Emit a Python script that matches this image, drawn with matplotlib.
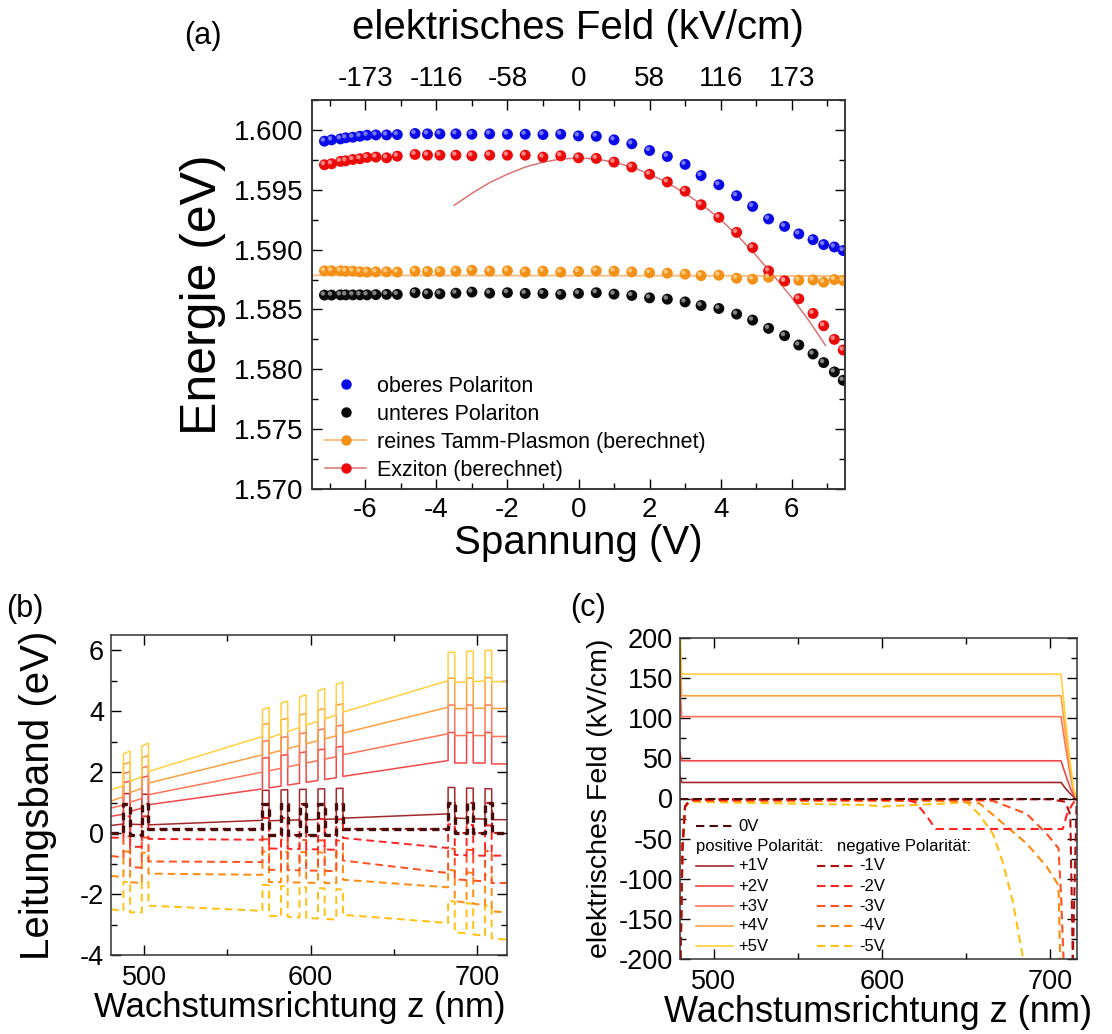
import numpy as np
import matplotlib
matplotlib.use("Agg")
import matplotlib.pyplot as plt
from matplotlib.transforms import offset_copy
from matplotlib.lines import Line2D
from matplotlib.ticker import MultipleLocator, FixedLocator, FormatStrFormatter

plt.rcParams['font.family'] = ['Liberation Sans', 'DejaVu Sans']
plt.rcParams['axes.linewidth'] = 1.1
plt.rcParams['axes.edgecolor'] = '#333333'
plt.rcParams['axes.unicode_minus'] = False

# ---------------- (a) polariton energies vs. voltage ----------------
voltage = [-7.15, -6.95, -6.7, -6.55, -6.35, -6.15, -5.95, -5.7, -5.4, -5.1,
           -4.6, -4.25, -3.9, -3.45, -3.0, -2.5, -2.0, -1.5, -1.0, -0.5,
           0.0, 0.5, 1.0, 1.5, 2.0, 2.5, 3.0, 3.45, 3.95, 4.45,
           4.9, 5.35, 5.8, 6.2, 6.6, 6.9, 7.2, 7.45]
e_upper = [1.59906, 1.59917, 1.59925, 1.59934, 1.59939, 1.59947, 1.59956, 1.59958, 1.59958, 1.59961,
           1.59970, 1.59967, 1.59967, 1.59967, 1.59964, 1.59967, 1.59964, 1.59964, 1.59961, 1.59964,
           1.59950, 1.59947, 1.59917, 1.59884, 1.59828, 1.59778, 1.59712, 1.59619, 1.59542, 1.59450,
           1.59361, 1.59256, 1.59194, 1.59131, 1.59083, 1.59042, 1.59022, 1.58992]
e_lower = [1.58620, 1.58620, 1.58622, 1.58622, 1.58622, 1.58622, 1.58622, 1.58624, 1.58626, 1.58626,
           1.58640, 1.58631, 1.58631, 1.58636, 1.58645, 1.58636, 1.58640, 1.58634, 1.58634, 1.58626,
           1.58634, 1.58640, 1.58628, 1.58617, 1.58597, 1.58586, 1.58563, 1.58533, 1.58508, 1.58461,
           1.58411, 1.58342, 1.58281, 1.58203, 1.58128, 1.58056, 1.57978, 1.57908]
e_tamm = [1.58823, 1.58823, 1.58823, 1.58820, 1.58820, 1.58814, 1.58812, 1.58814, 1.58814, 1.58812,
          1.58820, 1.58817, 1.58817, 1.58820, 1.58828, 1.58820, 1.58823, 1.58814, 1.58820, 1.58812,
          1.58817, 1.58823, 1.58820, 1.58814, 1.58806, 1.58803, 1.58795, 1.58783, 1.58786, 1.58761,
          1.58753, 1.58769, 1.58736, 1.58744, 1.58747, 1.58728, 1.58750, 1.58742]
e_exciton = [1.59709, 1.59717, 1.59737, 1.59742, 1.59753, 1.59759, 1.59770, 1.59773, 1.59767, 1.59781,
             1.59795, 1.59789, 1.59789, 1.59789, 1.59784, 1.59789, 1.59789, 1.59789, 1.59773, 1.59784,
             1.59767, 1.59762, 1.59731, 1.59690, 1.59629, 1.59565, 1.59488, 1.59375, 1.59269, 1.59144,
             1.59017, 1.58822, 1.58739, 1.58589, 1.58467, 1.58364, 1.58250, 1.58161]
tamm_fit_v = [-7.5, 7.5]
tamm_fit_e = [1.58785, 1.58780]
exciton_fit_v = [-3.5, -3.0, -2.5, -2.0, -1.5, -1.0, -0.5, 0.0, 0.5, 1.0, 1.5,
                 2.0, 2.5, 3.0, 3.5, 4.0, 4.5, 5.0, 5.5, 6.0, 6.5, 6.95]
exciton_fit_e = [1.59370, 1.59470, 1.59560, 1.59630, 1.59690, 1.59730, 1.59757, 1.59765, 1.59757,
                 1.59730, 1.59690, 1.59630, 1.59560, 1.59470, 1.59370, 1.59250, 1.59110, 1.58950,
                 1.58780, 1.58600, 1.58400, 1.58200]
field_tick_v = [-6, -4, -2, 0, 2, 4, 6]
field_tick_labels = ['-173', '-116', '-58', '0', '58', '116', '173']

# ---------------- (b) conduction band profiles ----------------
region_edges = [480.0, 487.5, 502.5, 571.0, 619.4, 682.6, 708.8, 718.0]
barrier_starts = [[487.5, 498.5], [571.0, 582.2, 593.3, 604.4, 615.4], [682.6, 693.7, 704.8]]
barrier_width = 4.0
barrier_height = 1.0
# (start, end) band edge per region: R0, G1, R1, G2, R2, G3, R3
band_0 = [0.00, 0.00, -0.05, -0.05, 0.13, 0.13, -0.05, -0.05, 0.13, 0.13, 0.00, 0.00, 0.00, 0.00]
band_p1 = [0.25, 0.30, 0.30, 0.27, 0.27, 0.42, 0.40, 0.47, 0.49, 0.63, 0.50, 0.45, 0.44, 0.44]
band_p2 = [0.55, 0.62, 0.65, 0.88, 0.93, 1.45, 1.45, 1.85, 1.86, 2.38, 2.30, 2.30, 2.27, 2.27]
band_p3 = [0.82, 0.92, 0.95, 1.20, 1.26, 2.00, 2.00, 2.55, 2.57, 3.26, 3.20, 3.20, 3.17, 3.17]
band_p4 = [1.05, 1.20, 1.25, 1.55, 1.64, 2.57, 2.55, 3.25, 3.28, 4.13, 4.08, 4.10, 4.09, 4.09]
band_p5 = [1.42, 1.55, 1.60, 1.95, 2.02, 3.17, 3.05, 3.95, 3.97, 5.00, 4.93, 5.00, 4.97, 4.97]
band_m1 = [0.00, 0.00, -0.05, -0.05, 0.12, 0.12, -0.05, -0.05, 0.12, 0.12, 0.00, 0.00, 0.00, 0.00]
band_m2 = [-0.15, -0.15, -0.45, -0.45, -0.19, -0.22, -0.50, -0.55, -0.16, -0.49, -0.71, -0.75, -0.74, -0.74]
band_m3 = [-0.75, -0.80, -1.10, -1.15, -0.93, -0.95, -1.20, -1.25, -0.90, -1.31, -1.50, -1.60, -1.64, -1.64]
band_m4 = [-1.40, -1.45, -1.60, -1.65, -1.33, -1.37, -1.60, -1.65, -1.53, -1.78, -2.20, -2.40, -2.57, -2.60]
band_m5 = [-2.50, -2.55, -2.60, -2.60, -2.38, -2.55, -2.70, -2.85, -2.68, -2.95, -3.22, -3.40, -3.45, -3.50]

# ---------------- (c) electric field profiles ----------------
pos_z = [480.0, 481.0, 706.5, 709.0, 712.0, 714.0, 715.8]
field_p1 = [28, 20, 20, 13, 6, 2, 0]
field_p2 = [58, 47, 47, 31, 13, 4, 0]
field_p3 = [140, 102, 102, 67, 29, 8, 0]
field_p4 = [190, 128, 128, 84, 36, 10, 0]
field_p5 = [215, 155, 155, 102, 44, 12, 0]
field_0_z = [480.0, 715.8]
field_0 = [0, 0]
field_m1_z = [480.3, 481.5, 483.0, 486.0, 700.0, 709.0, 712.0, 713.5, 715.8]
field_m1 = [-200, -60, -10, -1, -1, -4, -20, -200, 0]
field_m2_z = [480.3, 481.5, 483.0, 486.0, 615.0, 620.0, 626.0, 632.0, 707.5, 710.0, 713.0, 715.8]
field_m2 = [-200, -60, -10, -2, -2, -5, -20, -38, -38, -20, -8, 0]
field_m3_z = [480.3, 481.5, 483.0, 486.0, 650.0, 666.0, 686.0, 698.0, 705.0, 706.5, 708.0]
field_m3 = [-200, -60, -10, -2, -2, -3, -19, -44, -62, -120, -200]
field_m4_z = [480.3, 481.5, 483.0, 486.0, 640.0, 658.0, 672.0, 686.0, 698.0, 705.0, 706.0]
field_m4 = [-200, -60, -10, -3, -3, -6, -31, -56, -85, -108, -200]
field_m5_z = [480.3, 481.5, 483.0, 486.0, 590.0, 600.0, 640.0, 650.0, 658.0, 666.0, 672.0, 678.0, 684.0]
field_m5 = [-200, -60, -10, -4, -8, -10, -6, -4, -20, -44, -80, -130, -200]

col_0 = '#4a0a0a'
col_pos = ['#a3282b', '#f04848', '#ff7458', '#ffa040', '#ffd040']
col_neg = ['#b80d0d', '#ff2424', '#ff5020', '#ff8a10', '#ffc010']

fig = plt.figure(figsize=(11.12, 10.34), dpi=100)
W, H = 1112.0, 1034.0


def axes_px(left, top, right, bottom):
    return fig.add_axes([left / W, 1 - bottom / H, (right - left) / W, (bottom - top) / H])


def style_ticks(ax, size):
    ax.tick_params(which='both', direction='in', top=True, right=True, labelsize=size, width=1.0)
    ax.tick_params(which='major', length=7)
    ax.tick_params(which='minor', length=4)


# ------------------------------ panel (a)
ax = axes_px(312, 100, 845, 489)
ax.plot(tamm_fit_v, tamm_fit_e, color='#f6c28a', lw=1.4, zorder=2)
ax.plot(exciton_fit_v, exciton_fit_e, color='#d87474', lw=1.1, zorder=2)


def sphere(ax, x, y, color, light):
    ax.scatter(x, y, s=62, color=color, edgecolors='none', zorder=4)
    tr = offset_copy(ax.transData, fig=fig, x=-1.6, y=1.6, units='dots')
    ax.scatter(x, y, s=10, color=light, edgecolors='none', zorder=5, transform=tr, alpha=0.85)


sphere(ax, voltage, e_upper, '#0a0ae6', '#8a8aff')
sphere(ax, voltage, e_lower, '#0a0a0a', '#9a9a9a')
sphere(ax, voltage, e_tamm, '#f39017', '#ffd08a')
sphere(ax, voltage, e_exciton, '#ea0b0b', '#ff9a9a')

ax.set_xlim(-7.5, 7.5)
ax.set_ylim(1.570, 1.6025)
ax.xaxis.set_major_locator(MultipleLocator(2))
ax.xaxis.set_minor_locator(MultipleLocator(1))
ax.yaxis.set_major_locator(MultipleLocator(0.005))
ax.yaxis.set_minor_locator(MultipleLocator(0.0025))
ax.yaxis.set_major_formatter(FormatStrFormatter('%.3f'))
style_ticks(ax, 20)
ax.tick_params(axis='x', top=False, pad=6)
ax.tick_params(axis='y', pad=6)

top = ax.twiny()
top.set_xlim(ax.get_xlim())
top.xaxis.set_major_locator(FixedLocator(field_tick_v))
top.xaxis.set_minor_locator(MultipleLocator(1))
top.set_xticklabels(field_tick_labels)
top.tick_params(which='both', direction='in', labelsize=20, pad=6, width=1.0)
top.tick_params(which='major', length=7)
top.tick_params(which='minor', length=4)

handles = [
    Line2D([], [], ls='none', marker='o', ms=6.5, color='#0a0ae6'),
    Line2D([], [], ls='none', marker='o', ms=6.5, color='#0a0a0a'),
    Line2D([], [], ls='-', color='#f6c28a', lw=1.4, marker='o', ms=6.5,
           markerfacecolor='#f39017', markeredgecolor='#f39017'),
    Line2D([], [], ls='-', color='#d87474', lw=1.1, marker='o', ms=6.5,
           markerfacecolor='#ea0b0b', markeredgecolor='#ea0b0b'),
]
labels = ['oberes Polariton', 'unteres Polariton',
          'reines Tamm-Plasmon (berechnet)', 'Exziton (berechnet)']
ax.legend(handles, labels, loc='lower left', bbox_to_anchor=(0.005, -0.006), frameon=False,
          fontsize=15.5, handlelength=1.9, handletextpad=0.5, labelspacing=0.32, borderpad=0)

fig.text(578 / W, 1 - 28 / H, 'elektrisches Feld (kV/cm)', ha='center', va='center', fontsize=29)
fig.text(578 / W, 1 - 543 / H, 'Spannung (V)', ha='center', va='center', fontsize=29)
fig.text(203 / W, 1 - 295 / H, 'Energie (eV)', ha='center', va='center', fontsize=36, rotation=90)
fig.text(203 / W, 1 - 36 / H, '(a)', ha='center', va='center', fontsize=22)

# ------------------------------ panel (b)
bx = axes_px(111, 635, 507, 955)


def band_line(vals):
    zs, es = [], []
    for i in range(7):
        a, b = region_edges[i], region_edges[i + 1]
        e0, e1 = vals[2 * i], vals[2 * i + 1]

        def base(z):
            return e0 + (e1 - e0) * (z - a) / (b - a)
        if i % 2 == 0:
            zs += [a, b]
            es += [e0, e1]
        else:
            for s in barrier_starts[i // 2]:
                t = s + barrier_width
                if s > a:
                    zs.append(s); es.append(base(s))
                zs += [s, t]
                es += [base(s) + barrier_height, base(t) + barrier_height]
                if t < b:
                    zs.append(t); es.append(base(t))
    return zs, es


neg_bands = [band_m1, band_m2, band_m3, band_m4, band_m5]
pos_bands = [band_p1, band_p2, band_p3, band_p4, band_p5]
for vals, c in zip(neg_bands[::-1], col_neg[::-1]):
    z, e = band_line(vals)
    bx.plot(z, e, color=c, lw=1.4, ls=(0, (4, 2.5)))
for vals, c in zip(pos_bands, col_pos):
    z, e = band_line(vals)
    bx.plot(z, e, color=c, lw=1.1)
z, e = band_line(band_0)
bx.plot(z, e, color=col_0, lw=2.4, ls=(0, (2.2, 1.6)))

bx.set_xlim(480, 718)
bx.set_ylim(-4, 6.5)
bx.xaxis.set_major_locator(MultipleLocator(100))
bx.xaxis.set_minor_locator(MultipleLocator(50))
bx.yaxis.set_major_locator(MultipleLocator(2))
bx.yaxis.set_minor_locator(MultipleLocator(1))
style_ticks(bx, 19.5)
bx.tick_params(axis='x', pad=7)
bx.tick_params(axis='y', pad=5)
fig.text(300 / W, 1 - 1008 / H, 'Wachstumsrichtung z (nm)', ha='center', va='center', fontsize=25)
fig.text(38 / W, 1 - 795 / H, 'Leitungsband (eV)', ha='center', va='center', fontsize=29, rotation=90)
fig.text(25 / W, 1 - 609 / H, '(b)', ha='center', va='center', fontsize=22)

# ------------------------------ panel (c)
cx = axes_px(680, 638, 1077, 959)
neg_fields = [(field_m1_z, field_m1), (field_m2_z, field_m2), (field_m3_z, field_m3),
              (field_m4_z, field_m4), (field_m5_z, field_m5)]
pos_fields = [field_p1, field_p2, field_p3, field_p4, field_p5]
for (zz, ff), c in zip(neg_fields[::-1], col_neg[::-1]):
    cx.plot(zz, ff, color=c, lw=1.5, ls=(0, (4, 2.5)))
for ff, c in zip(pos_fields, col_pos):
    cx.plot(pos_z, ff, color=c, lw=1.2)
cx.plot(field_0_z, field_0, color=col_0, lw=1.5, ls=(0, (4, 2.5)))

cx.set_xlim(480, 716)
cx.set_ylim(-200, 200)
cx.xaxis.set_major_locator(MultipleLocator(100))
cx.xaxis.set_minor_locator(MultipleLocator(50))
cx.yaxis.set_major_locator(MultipleLocator(50))
cx.yaxis.set_minor_locator(MultipleLocator(25))
style_ticks(cx, 19.5)
cx.tick_params(axis='x', pad=7)
cx.tick_params(axis='y', pad=5)

# legend of (c), drawn in axes fractions
tr = cx.transAxes
fs = 12
cx.add_line(Line2D([0.040, 0.134], [0.414, 0.414], transform=tr, color=col_0, lw=1.5, ls=(0, (4, 2.5))))
cx.text(0.146, 0.414, '0V', transform=tr, fontsize=fs, va='center')
cx.text(0.040, 0.352, 'positive Polarität:', transform=tr, fontsize=fs, va='center')
cx.text(0.395, 0.352, 'negative Polarität:', transform=tr, fontsize=fs, va='center')
rows = [0.290, 0.227, 0.165, 0.103, 0.040]
for k, y in enumerate(rows):
    cx.add_line(Line2D([0.040, 0.134], [y, y], transform=tr, color=col_pos[k], lw=1.2))
    cx.text(0.146, y, '+%dV' % (k + 1), transform=tr, fontsize=fs, va='center')
    cx.add_line(Line2D([0.345, 0.438], [y, y], transform=tr, color=col_neg[k], lw=1.5, ls=(0, (4, 2.5))))
    cx.text(0.451, y, '-%dV' % (k + 1), transform=tr, fontsize=fs, va='center')

fig.text(878 / W, 1 - 1012 / H, 'Wachstumsrichtung z (nm)', ha='center', va='center', fontsize=26)
fig.text(600 / W, 1 - 798 / H, 'elektrisches Feld (kV/cm)', ha='center', va='center', fontsize=20.5, rotation=90)
fig.text(588 / W, 1 - 608 / H, '(c)', ha='center', va='center', fontsize=22)

fig.savefig('out.png', dpi=100)
